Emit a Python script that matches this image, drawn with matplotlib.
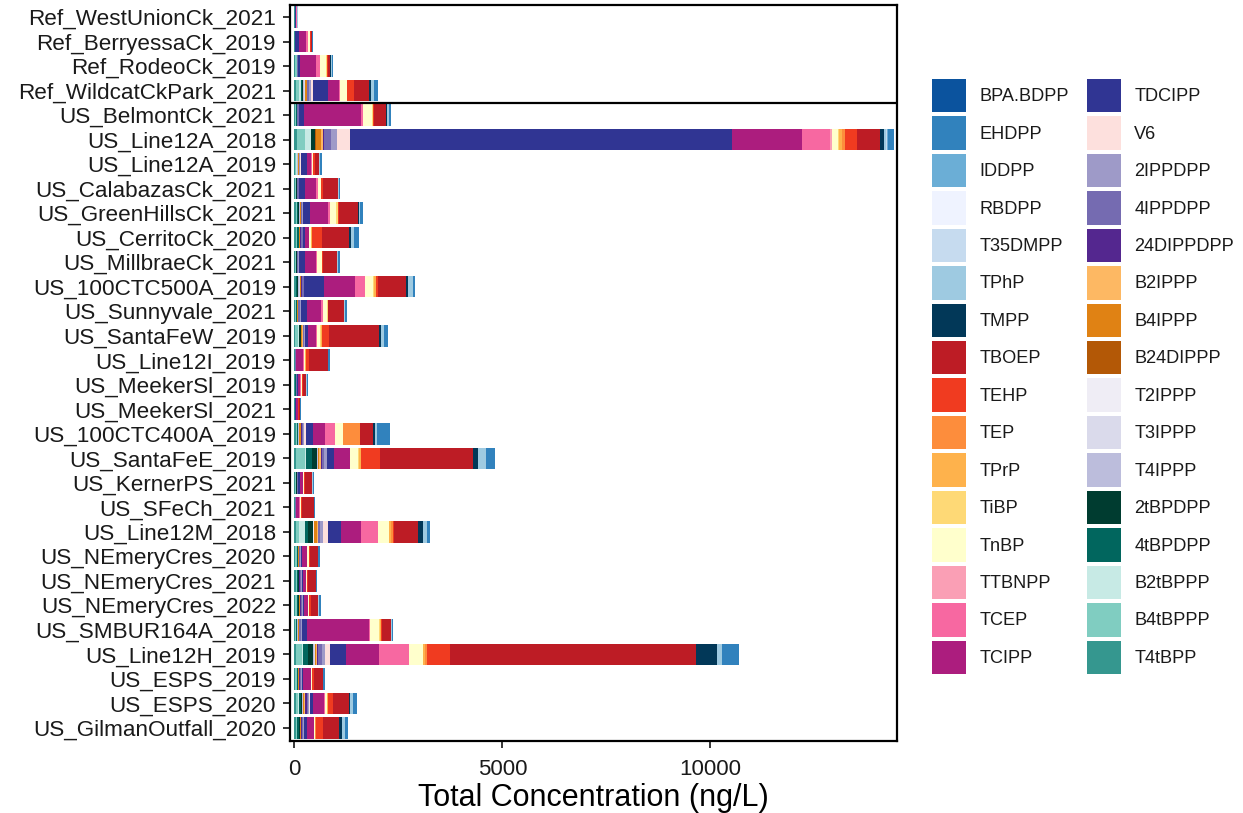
import matplotlib
matplotlib.use("Agg")
import matplotlib.pyplot as plt
import numpy as np

plt.rcParams["font.family"] = ["Liberation Sans", "DejaVu Sans"]

# sites, top to bottom
samples = [
    "Ref_WestUnionCk_2021", "Ref_BerryessaCk_2019", "Ref_RodeoCk_2019", "Ref_WildcatCkPark_2021",
    "US_BelmontCk_2021", "US_Line12A_2018", "US_Line12A_2019", "US_CalabazasCk_2021",
    "US_GreenHillsCk_2021", "US_CerritoCk_2020", "US_MillbraeCk_2021", "US_100CTC500A_2019",
    "US_Sunnyvale_2021", "US_SantaFeW_2019", "US_Line12I_2019", "US_MeekerSl_2019",
    "US_MeekerSl_2021", "US_100CTC400A_2019", "US_SantaFeE_2019", "US_KernerPS_2021",
    "US_SFeCh_2021", "US_Line12M_2018", "US_NEmeryCres_2020", "US_NEmeryCres_2021",
    "US_NEmeryCres_2022", "US_SMBUR164A_2018", "US_Line12H_2019", "US_ESPS_2019",
    "US_ESPS_2020", "US_GilmanOutfall_2020",
]

# compounds in legend order (stacked right-to-left)
compounds = [
    "BPA.BDPP", "EHDPP", "IDDPP", "RBDPP", "T35DMPP", "TPhP", "TMPP", "TBOEP",
    "TEHP", "TEP", "TPrP", "TiBP", "TnBP", "TTBNPP", "TCEP", "TCIPP",
    "TDCIPP", "V6", "2IPPDPP", "4IPPDPP", "24DIPPDPP", "B2IPPP", "B4IPPP", "B24DIPPP",
    "T2IPPP", "T3IPPP", "T4IPPP", "2tBPDPP", "4tBPDPP", "B2tBPPP", "B4tBPPP", "T4tBPP",
]

colors = [
    "#0B539E", "#3182BD", "#6BAED6", "#EFF3FF", "#C6DBEF", "#9ECAE1", "#023858", "#BD1C25",
    "#F03B20", "#FD8D3C", "#FEB24C", "#FED976", "#FFFFCC", "#FA9FB5", "#F768A1", "#AC1D7E",
    "#303593", "#FDE0DD", "#9E9AC8", "#756BB1", "#54278F", "#FDB863", "#E08214", "#B35806",
    "#EFEDF5", "#DADAEB", "#BCBDDC", "#003C30", "#01665E", "#C7EAE5", "#80CDC1", "#35978F",
]

# concentrations (ng/L), one value per site
BPA_BDPP = [0] * 30
EHDPP = [5, 10, 20, 100, 40, 144, 35, 40, 65, 120, 40, 55, 50, 105, 45,
         30, 5, 320, 215, 30, 15, 80, 40, 20, 35, 25, 409, 40, 105, 80]
IDDPP = [0, 0, 0, 0, 10, 20, 0, 0, 0, 0, 0, 0, 0, 0, 0,
         0, 0, 0, 0, 0, 0, 0, 0, 0, 0, 0, 0, 0, 0, 0]
RBDPP = [0] * 30
T35DMPP = [0, 0, 0, 0, 0, 20, 0, 0, 0, 0, 0, 0, 0, 0, 0,
           0, 0, 0, 0, 0, 0, 0, 0, 0, 0, 0, 0, 0, 0, 0]
TPhP = [5, 5, 20, 80, 40, 56, 25, 20, 40, 60, 20, 130, 30, 80, 20,
        10, 0, 40, 185, 10, 0, 95, 20, 0, 25, 25, 120, 15, 65, 65]
TMPP = [0, 0, 10, 40, 20, 80, 0, 0, 25, 65, 0, 40, 0, 40, 0,
        0, 0, 40, 120, 0, 0, 120, 0, 0, 0, 0, 521, 0, 30, 65]
TBOEP = [10, 30, 55, 360, 290, 561, 105, 360, 455, 655, 345, 680, 385, 1190, 440,
         80, 35, 320, 2244, 170, 295, 575, 190, 185, 185, 225, 5904, 210, 370, 390]
TEHP = [0, 15, 40, 160, 40, 296, 55, 40, 20, 240, 30, 40, 0, 175, 80,
        20, 20, 0, 455, 30, 30, 25, 25, 25, 30, 25, 563, 40, 135, 160]
TEP = [0, 0, 0, 0, 0, 80, 0, 0, 0, 0, 0, 0, 0, 0, 0,
       0, 0, 410, 0, 0, 0, 40, 0, 0, 0, 0, 40, 0, 0, 20]
TPrP = [5, 10, 0, 0, 0, 64, 0, 0, 0, 20, 0, 40, 0, 30, 15,
        0, 0, 0, 50, 0, 0, 60, 0, 0, 0, 20, 40, 0, 20, 0]
TiBP = [0, 0, 15, 10, 25, 30, 0, 0, 40, 0, 0, 30, 25, 20, 0,
        0, 0, 0, 20, 0, 0, 0, 0, 0, 0, 20, 0, 0, 0, 0]
TnBP = [5, 40, 145, 160, 200, 144, 25, 80, 145, 30, 105, 185, 95, 70, 40,
        20, 10, 200, 185, 30, 15, 255, 30, 25, 45, 210, 343, 30, 55, 40]
TTBNPP = [0, 10, 0, 0, 0, 40, 0, 0, 0, 0, 0, 0, 0, 0, 0,
          0, 0, 0, 0, 0, 0, 0, 0, 0, 0, 0, 0, 0, 0, 0]
TCEP = [5, 40, 95, 20, 55, 681, 20, 40, 55, 0, 25, 240, 40, 25, 20,
        20, 0, 240, 20, 0, 20, 415, 15, 0, 0, 30, 720, 10, 20, 0]
TCIPP = [20, 160, 385, 280, 1360, 1666, 95, 265, 425, 100, 270, 745, 345, 200, 160,
         60, 40, 280, 375, 65, 80, 490, 120, 80, 95, 1505, 800, 185, 265, 160]
TDCIPP = [15, 100, 40, 360, 120, 9200, 145, 135, 175, 60, 145, 480, 150, 65, 15,
          30, 15, 175, 175, 40, 10, 295, 15, 10, 20, 120, 378, 15, 60, 65]
V6 = [0, 0, 0, 40, 0, 305, 10, 0, 0, 0, 0, 0, 0, 0, 0,
      0, 0, 30, 0, 0, 0, 120, 0, 0, 0, 0, 120, 0, 20, 0]
IPPDPP_2 = [0, 0, 0, 40, 20, 145, 20, 20, 20, 0, 20, 20, 20, 30, 0,
            0, 0, 30, 55, 20, 0, 80, 20, 25, 20, 20, 80, 25, 30, 25]
IPPDPP_4 = [5, 10, 20, 60, 30, 160, 20, 30, 30, 40, 25, 40, 30, 30, 15,
            15, 10, 40, 60, 25, 15, 55, 30, 30, 30, 30, 80, 30, 40, 35]
DIPPDPP_24 = [0, 0, 0, 0, 20, 40, 0, 0, 0, 20, 0, 20, 20, 0, 0,
              0, 0, 20, 20, 0, 0, 0, 0, 15, 20, 15, 25, 15, 30, 25]
B2IPPP = [0, 0, 0, 0, 0, 40, 0, 0, 0, 0, 0, 0, 0, 20, 0,
          0, 0, 0, 40, 0, 0, 30, 0, 0, 0, 0, 25, 0, 20, 0]
B4IPPP = [0, 0, 20, 40, 0, 120, 15, 15, 20, 20, 15, 30, 20, 25, 0,
          0, 0, 30, 40, 0, 0, 50, 20, 20, 20, 20, 40, 20, 30, 25]
B24DIPPP = [0, 0, 0, 0, 0, 20, 0, 0, 0, 0, 0, 0, 0, 0, 0,
            0, 0, 0, 0, 0, 0, 0, 0, 0, 0, 0, 0, 0, 0, 0]
T2IPPP = [0, 0, 0, 0, 0, 0, 0, 0, 0, 0, 0, 0, 0, 0, 0,
          0, 0, 0, 0, 0, 0, 40, 0, 0, 0, 0, 0, 0, 0, 0]
T3IPPP = [0, 0, 0, 20, 0, 0, 0, 0, 0, 0, 0, 20, 0, 0, 0,
          0, 0, 0, 0, 0, 0, 0, 0, 0, 0, 0, 20, 0, 0, 0]
T4IPPP = [0, 0, 0, 40, 0, 0, 15, 0, 20, 0, 0, 30, 0, 0, 0,
          0, 0, 30, 20, 0, 0, 0, 0, 0, 0, 20, 30, 0, 20, 0]
tBPDPP_2 = [0, 0, 0, 20, 0, 110, 20, 15, 20, 10, 10, 10, 0, 30, 0,
            10, 0, 10, 120, 15, 0, 105, 15, 15, 20, 10, 110, 15, 30, 20]
tBPDPP_4 = [0, 0, 0, 20, 10, 0, 0, 0, 20, 40, 0, 30, 15, 20, 0,
            15, 0, 30, 145, 0, 0, 80, 25, 30, 30, 20, 130, 30, 50, 40]
B2tBPPP = [0, 0, 0, 40, 0, 130, 10, 0, 0, 0, 0, 0, 0, 20, 0,
           0, 0, 0, 20, 0, 0, 135, 0, 0, 0, 0, 20, 0, 20, 0]
B4tBPPP = [0, 0, 30, 80, 20, 190, 20, 20, 40, 30, 20, 0, 20, 60, 0,
           0, 0, 20, 215, 15, 0, 95, 30, 30, 40, 15, 135, 30, 60, 40]
T4tBPP = [5, 10, 20, 40, 20, 65, 20, 20, 30, 40, 20, 40, 20, 20, 10,
          10, 10, 30, 40, 20, 15, 25, 20, 25, 20, 20, 40, 20, 30, 30]

values = [
    BPA_BDPP, EHDPP, IDDPP, RBDPP, T35DMPP, TPhP, TMPP, TBOEP,
    TEHP, TEP, TPrP, TiBP, TnBP, TTBNPP, TCEP, TCIPP,
    TDCIPP, V6, IPPDPP_2, IPPDPP_4, DIPPDPP_24, B2IPPP, B4IPPP, B24DIPPP,
    T2IPPP, T3IPPP, T4IPPP, tBPDPP_2, tBPDPP_4, B2tBPPP, B4tBPPP, T4tBPP,
]

fig = plt.figure(figsize=(12.43, 8.13), dpi=100)
ax = fig.add_axes([290 / 1243, 1 - 741 / 813, 607 / 1243, 736 / 813])

y = np.arange(len(samples))
left = np.zeros(len(samples))
bars = {}
for name, col, vals in reversed(list(zip(compounds, colors, values))):
    vals = np.array(vals, dtype=float)
    bars[name] = ax.barh(y, vals, left=left, height=0.88, color=col, linewidth=0)
    left += vals

# reference sites above the line, urban sites below
ax.axhline(3.5, color="black", linewidth=1.6)

ax.set_ylim(29.53, -0.49)
ax.set_xlim(-108, 14484)
ax.set_yticks(y)
ax.set_yticklabels(samples, fontsize=16.2, color="#1a1a1a")
ax.set_xticks([0, 5000, 10000])
ax.set_xticklabels(["0", "5000", "10000"], fontsize=16, color="#1a1a1a")
ax.tick_params(axis="both", length=5, width=1.1)
ax.tick_params(axis="y", pad=5)
ax.tick_params(axis="x", pad=8)
for sp in ax.spines.values():
    sp.set_linewidth(1.6)
    sp.set_color("black")
ax.set_xlabel("Total Concentration (ng/L)", fontsize=22, labelpad=2)

handles = [bars[n] for n in compounds]
fig.legend(handles, compounds, loc="upper left", bbox_to_anchor=(932 / 1243, 1 - 79 / 813),
           ncol=2, frameon=False, fontsize=13.1, handlelength=1.85, handleheight=2.45,
           labelspacing=0.22, handletextpad=0.75, columnspacing=1.0,
           borderpad=0, borderaxespad=0, labelcolor="#1a1a1a")

fig.savefig("out.png", dpi=100)
